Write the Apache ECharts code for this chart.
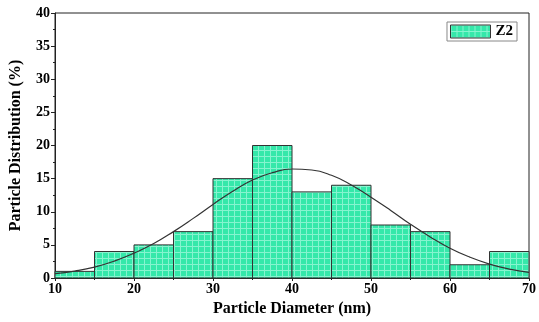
<!DOCTYPE html>
<html>
<head>
<meta charset="utf-8">
<script src="https://cdn.jsdelivr.net/npm/echarts@6/dist/echarts.min.js"></script>
<style>
  html, body { margin: 0; padding: 0; background: #fff; }
  #chart { width: 539px; height: 322px; }
</style>
</head>
<body>
<div id="chart"></div>
<script>
// histogram bins (nm) and counts (%)
const binStart = [10, 15, 20, 25, 30, 35, 40, 45, 50, 55, 60, 65];
const binWidth = 5;
const binValue = [1, 4, 5, 7, 15, 20, 13, 14, 8, 7, 2, 4];

// fitted curve
const curveX = [10, 12.5, 15, 17.5, 20, 22.5, 25, 27.5, 30, 32.5, 35, 37.5, 40,
    42.5, 45, 47.5, 50, 52.5, 55, 57.5, 60, 62.5, 65, 67.5, 70];
const curveY = [0.65, 1.05, 1.65, 2.55, 3.75, 5.2, 7.0, 9.0, 11.1, 13.1, 14.8, 15.9, 16.45,
    16.3, 15.5, 14.05, 12.2, 10.2, 8.1, 6.2, 4.5, 3.15, 2.1, 1.35, 0.85];

const seriesName = 'Z2';
const xTitle = 'Particle Diameter (nm)';
const yTitle = 'Particle Distribution (%)';

const FONT = '"Liberation Serif", "Times New Roman", serif';

// grid pattern fill like the original
function makePattern() {
    const c = document.createElement('canvas');
    c.width = 6;
    c.height = 6;
    const ctx = c.getContext('2d');
    ctx.fillStyle = '#35e8aa';
    ctx.fillRect(0, 0, 6, 6);
    ctx.fillStyle = '#86f4cf';
    ctx.fillRect(0, 0, 6, 1);
    ctx.fillRect(0, 0, 1, 6);
    return c;
}
const pattern = { image: makePattern(), repeat: 'repeat' };

const histData = binStart.map((s, i) => [s, s + binWidth, binValue[i]]);
const curveData = curveX.map((x, i) => [x, curveY[i]]);

const chart = echarts.init(document.getElementById('chart'));

chart.setOption({
    animation: false,
    backgroundColor: '#fff',
    grid: {
        left: 55, right: 8, top: 13, bottom: 43,
        show: true, borderColor: '#222', borderWidth: 1
    },
    legend: {
        data: [{
            name: seriesName,
            icon: 'rect',
            itemStyle: { color: pattern, borderColor: '#333', borderWidth: 1 }
        }],
        right: 22, top: 22,
        itemWidth: 40, itemHeight: 13, itemGap: 4,
        padding: [2, 4, 2, 3],
        borderColor: '#888', borderWidth: 1,
        textStyle: { fontFamily: FONT, fontWeight: 'bold', fontSize: 15, color: '#000' }
    },
    xAxis: {
        type: 'value', min: 10, max: 70, interval: 10,
        name: xTitle, nameLocation: 'middle', nameGap: 23,
        nameTextStyle: { fontFamily: FONT, fontWeight: 'bold', fontSize: 16, color: '#000' },
        axisLine: { show: true, lineStyle: { color: '#222', width: 1 } },
        axisTick: { show: true, length: 3, lineStyle: { color: '#222' } },
        minorTick: { show: true, splitNumber: 2, length: 2, lineStyle: { color: '#222' } },
        axisLabel: { fontFamily: FONT, fontWeight: 'bold', fontSize: 14, color: '#000', margin: 4 },
        splitLine: { show: false }
    },
    yAxis: {
        type: 'value', min: 0, max: 40, interval: 5,
        name: yTitle, nameLocation: 'middle', nameGap: 31,
        nameTextStyle: { fontFamily: FONT, fontWeight: 'bold', fontSize: 16, color: '#000' },
        axisLine: { show: true, lineStyle: { color: '#222', width: 1 } },
        axisTick: { show: true, length: 4, lineStyle: { color: '#222' } },
        minorTick: { show: true, splitNumber: 2, length: 2, lineStyle: { color: '#222' } },
        axisLabel: { fontFamily: FONT, fontWeight: 'bold', fontSize: 14, color: '#000', margin: 5 },
        splitLine: { show: false }
    },
    series: [
        {
            name: seriesName,
            type: 'custom',
            data: histData,
            encode: { x: [0, 1], y: 2 },
            renderItem: function (params, api) {
                const p0 = api.coord([api.value(0), 0]);
                const p1 = api.coord([api.value(1), api.value(2)]);
                return {
                    type: 'rect',
                    shape: { x: p0[0], y: p1[1], width: p1[0] - p0[0], height: p0[1] - p1[1] },
                    style: { fill: pattern, stroke: '#333', lineWidth: 1 }
                };
            },
            itemStyle: { color: pattern, borderColor: '#333' }
        },
        {
            name: 'fit',
            type: 'line',
            data: curveData,
            smooth: true,
            symbol: 'none',
            lineStyle: { color: '#333', width: 1.2 },
            z: 5
        }
    ]
});
</script>
</body>
</html>
